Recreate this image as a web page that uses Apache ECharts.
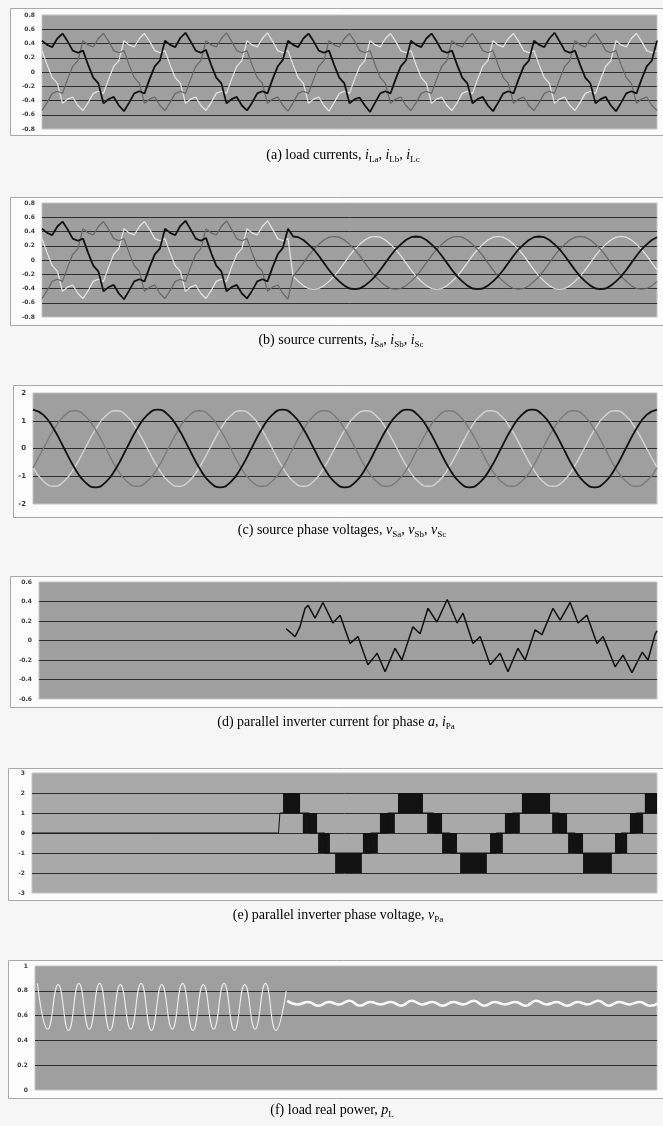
<!DOCTYPE html>
<html>
<head>
<meta charset="utf-8">
<script src="https://cdn.jsdelivr.net/npm/echarts@6/dist/echarts.min.js"></script>
<style>
  html, body { margin: 0; padding: 0; background: #f6f6f6; }
  #chart { width: 663px; height: 1126px; }
</style>
</head>
<body>
<div id="chart"></div>
<script>
// x axis of every panel: electrical angle in degrees, 0..1800 (five mains cycles)
// (a) load currents, sampled every 15 deg
const loadA = [
  0.44,0.38,0.35,0.47,0.54,0.43,0.30,0.27,0.30,0.10,-0.08,-0.16,-0.44,-0.38,-0.35,-0.47,-0.55,-0.43,-0.30,-0.27,-0.30,-0.10,0.08,0.16,
  0.44,0.38,0.35,0.48,0.55,0.43,0.30,0.27,0.31,0.10,-0.08,-0.16,-0.44,-0.38,-0.35,-0.47,-0.54,-0.43,-0.30,-0.27,-0.30,-0.10,0.08,0.17,
  0.44,0.38,0.35,0.47,0.54,0.43,0.30,0.27,0.30,0.10,-0.08,-0.16,-0.44,-0.38,-0.36,-0.47,-0.56,-0.43,-0.30,-0.27,-0.30,-0.10,0.08,0.16,
  0.44,0.38,0.35,0.47,0.54,0.43,0.30,0.27,0.30,0.10,-0.08,-0.16,-0.44,-0.38,-0.35,-0.47,-0.55,-0.43,-0.30,-0.27,-0.30,-0.10,0.08,0.16,
  0.44,0.38,0.35,0.47,0.55,0.43,0.30,0.27,0.30,0.10,-0.08,-0.16,-0.44,-0.38,-0.35,-0.47,-0.55,-0.43,-0.30,-0.27,-0.30,-0.10,0.08,0.16,
  0.44];
const loadB = [
  -0.54,-0.43,-0.30,-0.27,-0.30,-0.10,0.08,0.16,0.44,0.38,0.35,0.47,0.54,0.43,0.30,0.27,0.30,0.10,-0.08,-0.16,-0.44,-0.38,-0.35,-0.47,
  -0.54,-0.43,-0.30,-0.27,-0.30,-0.10,0.08,0.16,0.44,0.38,0.35,0.47,0.55,0.43,0.30,0.27,0.30,0.10,-0.08,-0.16,-0.44,-0.38,-0.35,-0.47,
  -0.55,-0.43,-0.30,-0.27,-0.30,-0.10,0.08,0.16,0.44,0.38,0.35,0.47,0.54,0.43,0.30,0.27,0.30,0.10,-0.08,-0.16,-0.44,-0.38,-0.35,-0.47,
  -0.54,-0.43,-0.30,-0.27,-0.30,-0.10,0.08,0.16,0.44,0.38,0.35,0.47,0.54,0.43,0.30,0.27,0.30,0.10,-0.08,-0.16,-0.44,-0.38,-0.35,-0.47,
  -0.54,-0.43,-0.30,-0.27,-0.30,-0.10,0.08,0.16,0.44,0.38,0.35,0.47,0.54,0.43,0.30,0.27,0.30,0.10,-0.08,-0.16,-0.44,-0.38,-0.35,-0.47,
  -0.54];
const loadC = [
  0.30,0.10,-0.08,-0.16,-0.44,-0.38,-0.35,-0.47,-0.54,-0.43,-0.30,-0.27,-0.30,-0.10,0.08,0.16,0.44,0.38,0.35,0.47,0.54,0.43,0.30,0.27,
  0.30,0.10,-0.08,-0.16,-0.44,-0.38,-0.35,-0.47,-0.54,-0.43,-0.30,-0.27,-0.30,-0.10,0.08,0.16,0.44,0.38,0.35,0.47,0.55,0.43,0.30,0.27,
  0.30,0.10,-0.08,-0.16,-0.44,-0.38,-0.35,-0.47,-0.55,-0.43,-0.30,-0.27,-0.30,-0.10,0.08,0.16,0.44,0.38,0.35,0.47,0.54,0.43,0.30,0.27,
  0.30,0.10,-0.08,-0.16,-0.44,-0.38,-0.35,-0.47,-0.54,-0.43,-0.30,-0.27,-0.30,-0.10,0.08,0.16,0.44,0.38,0.35,0.47,0.54,0.43,0.30,0.27,
  0.30,0.10,-0.08,-0.16,-0.44,-0.38,-0.35,-0.47,-0.54,-0.43,-0.30,-0.27,-0.30,-0.10,0.08,0.16,0.44,0.38,0.35,0.47,0.54,0.43,0.30,0.27,
  0.30];

// (b) source currents, every 15 deg: load-like until 720 deg, sinusoidal afterwards
const srcA = [
  0.44,0.38,0.35,0.47,0.54,0.43,0.30,0.27,0.30,0.10,-0.08,-0.16,-0.44,-0.38,-0.35,-0.47,-0.55,-0.43,-0.30,-0.27,-0.30,-0.10,0.08,0.16,
  0.44,0.38,0.35,0.48,0.55,0.43,0.30,0.27,0.31,0.10,-0.08,-0.16,-0.44,-0.38,-0.35,-0.47,-0.54,-0.43,-0.30,-0.27,-0.30,-0.10,0.08,0.17,
  0.44,
  0.33,0.32,0.28,0.22,0.15,0.06,-0.04,-0.14,-0.23,-0.30,-0.36,-0.40,-0.41,-0.40,-0.36,-0.30,-0.23,-0.14,-0.04,0.06,0.15,0.22,0.28,0.32,
  0.33,0.32,0.28,0.22,0.15,0.06,-0.04,-0.14,-0.23,-0.30,-0.36,-0.40,-0.41,-0.40,-0.36,-0.30,-0.23,-0.14,-0.04,0.06,0.15,0.22,0.28,0.32,
  0.33,0.32,0.28,0.22,0.15,0.06,-0.04,-0.14,-0.23,-0.30,-0.36,-0.40,-0.41,-0.40,-0.36,-0.30,-0.23,-0.14,-0.04,0.06,0.15,0.22,0.28,0.32];
const srcB = [
  -0.54,-0.43,-0.30,-0.27,-0.30,-0.10,0.08,0.16,0.44,0.38,0.35,0.47,0.54,0.43,0.30,0.27,0.30,0.10,-0.08,-0.16,-0.44,-0.38,-0.35,-0.47,
  -0.54,-0.43,-0.30,-0.27,-0.30,-0.10,0.08,0.16,0.44,0.38,0.35,0.47,0.55,0.43,0.30,0.27,0.30,0.10,-0.08,-0.16,-0.44,-0.38,-0.35,-0.47,
  -0.55,
  -0.23,-0.14,-0.04,0.06,0.15,0.22,0.28,0.32,0.33,0.32,0.28,0.22,0.15,0.06,-0.04,-0.14,-0.23,-0.30,-0.36,-0.40,-0.41,-0.40,-0.36,-0.30,
  -0.23,-0.14,-0.04,0.06,0.15,0.22,0.28,0.32,0.33,0.32,0.28,0.22,0.15,0.06,-0.04,-0.14,-0.23,-0.30,-0.36,-0.40,-0.41,-0.40,-0.36,-0.30,
  -0.23,-0.14,-0.04,0.06,0.15,0.22,0.28,0.32,0.33,0.32,0.28,0.22,0.15,0.06,-0.04,-0.14,-0.23,-0.30,-0.36,-0.40,-0.41,-0.40,-0.36,-0.30];
const srcC = [
  0.30,0.10,-0.08,-0.16,-0.44,-0.38,-0.35,-0.47,-0.54,-0.43,-0.30,-0.27,-0.30,-0.10,0.08,0.16,0.44,0.38,0.35,0.47,0.54,0.43,0.30,0.27,
  0.30,0.10,-0.08,-0.16,-0.44,-0.38,-0.35,-0.47,-0.54,-0.43,-0.30,-0.27,-0.30,-0.10,0.08,0.16,0.44,0.38,0.35,0.47,0.55,0.43,0.30,0.27,
  0.30,
  -0.23,-0.30,-0.36,-0.40,-0.41,-0.40,-0.36,-0.30,-0.23,-0.14,-0.04,0.06,0.15,0.22,0.28,0.32,0.33,0.32,0.28,0.22,0.15,0.06,-0.04,-0.14,
  -0.23,-0.30,-0.36,-0.40,-0.41,-0.40,-0.36,-0.30,-0.23,-0.14,-0.04,0.06,0.15,0.22,0.28,0.32,0.33,0.32,0.28,0.22,0.15,0.06,-0.04,-0.14,
  -0.23,-0.30,-0.36,-0.40,-0.41,-0.40,-0.36,-0.30,-0.23,-0.14,-0.04,0.06,0.15,0.22,0.28,0.32,0.33,0.32,0.28,0.22,0.15,0.06,-0.04,-0.14];

// (c) source phase voltages, every 30 deg
const voltA = [
  1.40,1.21,0.70,0,-0.70,-1.21,-1.40,-1.21,-0.70,0,0.70,1.21,
  1.40,1.21,0.70,0,-0.70,-1.21,-1.40,-1.21,-0.70,0,0.70,1.21,
  1.40,1.21,0.70,0,-0.70,-1.21,-1.40,-1.21,-0.70,0,0.70,1.21,
  1.40,1.21,0.70,0,-0.70,-1.21,-1.40,-1.21,-0.70,0,0.70,1.21,
  1.40,1.21,0.70,0,-0.70,-1.21,-1.40,-1.21,-0.70,0,0.70,1.21,
  1.40];
const voltB = [
  -0.70,0,0.68,1.18,1.36,1.18,0.68,0,-0.70,-1.18,-1.36,-1.18,
  -0.70,0,0.68,1.18,1.36,1.18,0.68,0,-0.70,-1.18,-1.36,-1.18,
  -0.70,0,0.68,1.18,1.36,1.18,0.68,0,-0.70,-1.18,-1.36,-1.18,
  -0.70,0,0.68,1.18,1.36,1.18,0.68,0,-0.70,-1.18,-1.36,-1.18,
  -0.70,0,0.68,1.18,1.36,1.18,0.68,0,-0.70,-1.18,-1.36,-1.18,
  -0.70];
const voltC = [
  -0.68,-1.18,-1.36,-1.18,-0.68,0,0.68,1.18,1.36,1.18,0.68,0,
  -0.68,-1.18,-1.36,-1.18,-0.68,0,0.68,1.18,1.36,1.18,0.68,0,
  -0.68,-1.18,-1.36,-1.18,-0.68,0,0.68,1.18,1.36,1.18,0.68,0,
  -0.68,-1.18,-1.36,-1.18,-0.68,0,0.68,1.18,1.36,1.18,0.68,0,
  -0.68,-1.18,-1.36,-1.18,-0.68,0,0.68,1.18,1.36,1.18,0.68,0,
  -0.68];

// (d) parallel inverter current, phase a: [deg, value]
const invCurrent = [
  [720,0.12],[746,0.04],[760,0.14],[775,0.33],[784,0.36],[804,0.23],[827,0.39],[856,0.18],[877,0.26],
  [906,-0.03],[929,0.04],[958,-0.25],[985,-0.13],[1008,-0.32],[1037,-0.08],[1057,-0.20],[1089,0.14],
  [1110,0.07],[1133,0.33],[1159,0.19],[1189,0.42],[1218,0.18],[1235,0.28],[1264,-0.03],[1285,0.04],
  [1314,-0.25],[1343,-0.13],[1366,-0.32],[1395,-0.08],[1416,-0.20],[1445,0.11],[1465,0.06],[1497,0.33],
  [1518,0.21],[1547,0.39],[1570,0.18],[1596,0.26],[1625,-0.03],[1643,0.04],[1678,-0.27],[1701,-0.15],
  [1727,-0.33],[1757,-0.12],[1774,-0.20],[1794,0.06],[1800,0.10]];

// (e) parallel inverter phase voltage: level held between switching bursts [deg, level]
const invLevel = [
  [0,0],[710,0],[718,1],[776,1],[822,0],[865,-1],[951,-1],[999,0],[1050,1],[1132,1],[1181,0],
  [1228,-1],[1315,-1],[1359,0],[1408,1],[1495,1],[1542,0],[1587,-1],[1675,-1],[1718,0],[1762,1],[1800,1]];
// PWM switching bursts: [startDeg, endDeg, lowLevel, highLevel]
const invBursts = [
  [723,772,1,2],[780,821,0,1],[824,858,-1,0],[873,950,-2,-1],[953,996,-1,0],[1002,1045,0,1],
  [1054,1126,1,2],[1138,1181,0,1],[1181,1224,-1,0],[1233,1310,-2,-1],[1319,1356,-1,0],[1362,1405,0,1],
  [1411,1492,1,2],[1498,1541,0,1],[1544,1587,-1,0],[1587,1670,-2,-1],[1679,1714,-1,0],[1722,1760,0,1],
  [1765,1800,1,2]];
const invVoltTicks = ['-3', '-2', '-1', '0', '1', '2', '3'];

// (f) load real power: extremes every 30 deg from 7 deg, then ripple every 30 deg from 730 deg
const powerBefore = [
  0.86,0.49,0.85,0.48,0.86,0.49,0.86,0.48,0.85,0.49,0.86,0.48,
  0.85,0.49,0.86,0.48,0.85,0.49,0.86,0.48,0.85,0.49,0.86,0.48,0.80];
const powerAfter = [
  0.72,0.69,0.71,0.68,0.71,0.69,0.72,0.68,0.71,0.69,0.71,0.68,0.72,0.69,0.71,0.68,0.71,0.69,
  0.72,0.68,0.71,0.69,0.71,0.68,0.72,0.69,0.71,0.68,0.71,0.69,0.72,0.68,0.71,0.69,0.71,0.68,0.71];

function pairs(values, start, step) {
  return values.map((v, i) => [start + i * step, v]);
}

const PLOT_BG = '#9f9f9f';
const GRID_DARK = '#2e2e2e';
const BLACK = '#111111';
const GRAY = '#666666';
const WHITE = '#e6e6e6';

// layout of the six panels (px)
const panels = [
  { top: 15,  height: 114, left: 42, boxX: 10, boxY: 8,   boxH: 127, min: -0.8, max: 0.8, interval: 0.2, cap: 155 },
  { top: 203, height: 114, left: 42, boxX: 10, boxY: 197, boxH: 128, min: -0.8, max: 0.8, interval: 0.2, cap: 340 },
  { top: 393, height: 111, left: 33, boxX: 13, boxY: 385, boxH: 132, min: -2,   max: 2,   interval: 1,   cap: 530 },
  { top: 582, height: 117, left: 39, boxX: 10, boxY: 576, boxH: 131, min: -0.6, max: 0.6, interval: 0.2, cap: 722 },
  { top: 773, height: 120, left: 32, boxX: 8,  boxY: 768, boxH: 132, min: -3,   max: 3,   interval: 1,   cap: 915 },
  { top: 966, height: 124, left: 35, boxX: 8,  boxY: 960, boxH: 138, min: 0,    max: 1,   interval: 0.2, cap: 1110 }
];

function splitColors(p) {
  const n = Math.round((p.max - p.min) / p.interval) + 1;
  const c = [];
  for (let i = 0; i < n; i++) c.push(i === 0 || i === n - 1 ? 'rgba(0,0,0,0)' : GRID_DARK);
  return c;
}

const grids = panels.map(p => ({
  left: p.left, right: 6, top: p.top, height: p.height,
  show: true, backgroundColor: p === panels[4] ? '#a9a9a9' : PLOT_BG,
  borderColor: '#c4c4c4', borderWidth: 1
}));

const xAxes = panels.map((p, i) => ({ gridIndex: i, type: 'value', min: 0, max: 1800, show: false }));

const yAxes = panels.map((p, i) => ({
  gridIndex: i, type: 'value', min: p.min, max: p.max, interval: p.interval,
  axisLine: { show: false }, axisTick: { show: false },
  axisLabel: {
    fontSize: i === 2 ? 7 : 6, color: '#3a3a3a', fontWeight: 'bold', margin: 7,
    fontFamily: 'DejaVu Sans',
    formatter: i === 4 ? (v => invVoltTicks[Math.round(v) + 3]) : (v => String(Math.round(v * 10) / 10))
  },
  splitLine: { show: true, lineStyle: { color: splitColors(p), width: 1 } }
}));

function wave(name, data, gi, color, width, extra) {
  return Object.assign({
    name: name, type: 'line', xAxisIndex: gi, yAxisIndex: gi, data: data,
    showSymbol: false, symbol: 'none', animation: false,
    lineStyle: { color: color, width: width }
  }, extra || {});
}

const series = [
  wave('iLc', pairs(loadC, 0, 15), 0, WHITE, 1.2),
  wave('iLb', pairs(loadB, 0, 15), 0, GRAY, 1.2),
  wave('iLa', pairs(loadA, 0, 15), 0, BLACK, 1.8),

  wave('iSc', pairs(srcC, 0, 15), 1, WHITE, 1.2),
  wave('iSb', pairs(srcB, 0, 15), 1, GRAY, 1.2),
  wave('iSa', pairs(srcA, 0, 15), 1, BLACK, 1.8),

  wave('vSc', pairs(voltC, 0, 30), 2, '#d4d4d4', 1.4, { smooth: true }),
  wave('vSb', pairs(voltB, 0, 30), 2, '#7a7a7a', 1.4, { smooth: true }),
  wave('vSa', pairs(voltA, 0, 30), 2, BLACK, 1.8, { smooth: true }),

  wave('iPa', invCurrent, 3, BLACK, 1.5),

  wave('vPa', invLevel, 4, BLACK, 1, { step: 'middle' }),
  {
    name: 'vPa bursts', type: 'custom', xAxisIndex: 4, yAxisIndex: 4, data: invBursts,
    encode: { x: [0, 1], y: [2, 3] }, animation: false,
    renderItem: function (params, api) {
      const a = api.coord([api.value(0), api.value(3)]);
      const b = api.coord([api.value(1), api.value(2)]);
      return {
        type: 'rect',
        shape: { x: a[0], y: a[1], width: b[0] - a[0], height: b[1] - a[1] },
        style: { fill: '#121212' }
      };
    }
  },

  wave('pL before', pairs(powerBefore, 7, 30), 5, '#eeeeee', 1.1, { smooth: true }),
  wave('pL after', pairs(powerAfter, 730, 30), 5, '#f8f8f8', 2.6, { smooth: true })
];

const sub = { fontSize: 9, fontFamily: 'Liberation Serif', fontStyle: 'normal', lineHeight: 8, verticalAlign: 'bottom', color: '#222' };
const rich = {
  n: { fontSize: 14, fontFamily: 'Liberation Serif', color: '#222', lineHeight: 18 },
  v: { fontSize: 14, fontFamily: 'Liberation Serif', fontStyle: 'italic', color: '#222', lineHeight: 18 },
  s: sub
};
const captions = [
  '{n|(a) load currents, }{v|i}{s|La}{n|, }{v|i}{s|Lb}{n|, }{v|i}{s|Lc}',
  '{n|(b) source currents, }{v|i}{s|Sa}{n|, }{v|i}{s|Sb}{n|, }{v|i}{s|Sc}',
  '{n|(c) source phase voltages, }{v|v}{s|Sa}{n|, }{v|v}{s|Sb}{n|, }{v|v}{s|Sc}',
  '{n|(d) parallel inverter current for phase }{v|a}{n|, }{v|i}{s|Pa}',
  '{n|(e) parallel inverter phase voltage, }{v|v}{s|Pa}',
  '{n|(f) load real power, }{v|p}{s|L}'
];
const capX = [343, 341, 342, 336, 338, 332];

const graphics = [];
panels.forEach((p, i) => {
  graphics.push({
    type: 'rect', z: -10, silent: true,
    shape: { x: p.boxX + 0.5, y: p.boxY + 0.5, width: 663 - p.boxX + 10, height: p.boxH },
    style: { fill: '#fcfcfc', stroke: '#a8a8a8', lineWidth: 1 }
  });
  graphics.push({
    type: 'text', z: 10, silent: true, x: capX[i], y: p.cap,
    style: { text: captions[i], rich: rich, align: 'center', verticalAlign: 'middle' }
  });
});

const chart = echarts.init(document.getElementById('chart'), null, { renderer: 'canvas' });
chart.setOption({
  backgroundColor: '#f6f6f6',
  animation: false,
  grid: grids,
  xAxis: xAxes,
  yAxis: yAxes,
  series: series,
  graphic: { elements: graphics }
});
</script>
</body>
</html>
